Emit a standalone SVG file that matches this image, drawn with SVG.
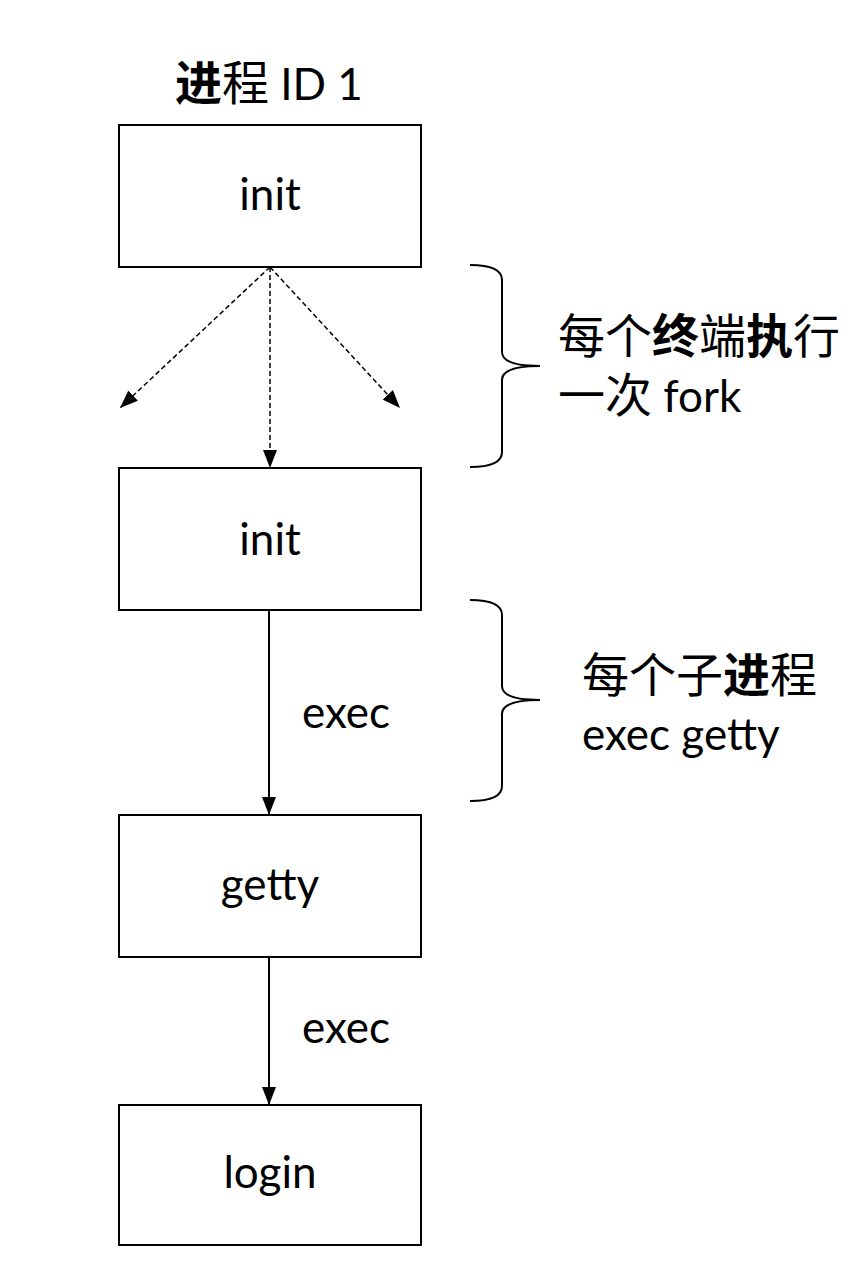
<svg xmlns="http://www.w3.org/2000/svg" width="864" height="1264" viewBox="0 0 864 1264">
<style>
.box{fill:#fff;stroke:#000;stroke-width:2}
.t{font-family:"Lato","Noto Sans CJK SC",sans-serif;font-size:44px;fill:#000}
.zh{font-family:"Noto Sans CJK SC",sans-serif;font-size:47px}
.c{text-anchor:middle}
.b{font-weight:bold}
.dash{stroke:#000;stroke-width:1.5;stroke-dasharray:5,3;fill:none}
.solid{stroke:#000;stroke-width:2;fill:none}
.brace{stroke:#000;stroke-width:2;fill:none}
</style>
<defs>
<marker id="ah2" viewBox="0 0 18 14" refX="18" refY="7" markerWidth="18" markerHeight="14" markerUnits="userSpaceOnUse" orient="auto">
<path d="M0,0 L18,7 L0,14 z" fill="#000"/>
</marker>
</defs>
<text class="t" x="175" y="100"><tspan class="zh"><tspan class="b">进</tspan>程</tspan> ID 1</text>
<g id="init1"><rect class="box" x="119" y="125" width="302" height="142"/><text class="t c" x="270" y="210">init</text></g>
<g id="init2"><rect class="box" x="119" y="468" width="302" height="142"/><text class="t c" x="270" y="555">init</text></g>
<g id="getty"><rect class="box" x="119" y="815" width="302" height="142"/><text class="t c" x="270" y="900">getty</text></g>
<g id="login"><rect class="box" x="119" y="1105" width="302" height="140"/><text class="t c" x="270" y="1188">login</text></g>
<g id="connectors">
<line class="dash" x1="270" y1="267" x2="120" y2="408" marker-end="url(#ah2)"/>
<line class="dash" x1="270" y1="267" x2="270" y2="468" marker-end="url(#ah2)"/>
<line class="dash" x1="270" y1="267" x2="400" y2="408" marker-end="url(#ah2)"/>
<line class="solid" x1="269" y1="610" x2="269" y2="815" marker-end="url(#ah2)"/>
<line class="solid" x1="269" y1="957" x2="269" y2="1105" marker-end="url(#ah2)"/>
</g>
<text class="t" x="302" y="728">exec</text>
<text class="t" x="302" y="1043">exec</text>
<g id="brace1">
<path class="brace" d="M470,265 Q502,265 502,280 L502,352 Q502,366 540,366 Q502,366 502,380 L502,452 Q502,467 470,467"/>
<text class="t zh" x="558" y="353">每个<tspan class="b">终</tspan>端<tspan class="b">执</tspan>行</text>
<text class="t" x="558" y="412"><tspan class="zh">一次</tspan> fork</text>
</g>
<g id="brace2">
<path class="brace" d="M470,600 Q502,600 502,615 L502,686 Q502,700 540,700 Q502,700 502,714 L502,786 Q502,801 470,801"/>
<text class="t zh" x="582" y="692">每个子<tspan class="b">进</tspan>程</text>
<text class="t" x="582" y="750">exec getty</text>
</g>
</svg>
